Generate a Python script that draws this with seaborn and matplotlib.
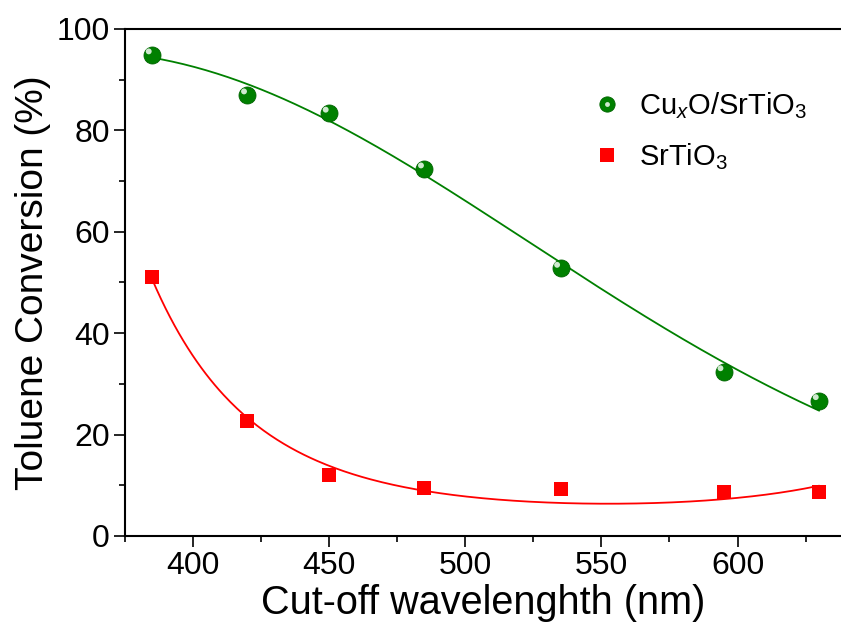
import numpy as np
import matplotlib
matplotlib.use("Agg")
import matplotlib.pyplot as plt
import matplotlib.transforms as mtransforms
from matplotlib.lines import Line2D
import seaborn as sns

# data
wavelength = [385, 420, 450, 485, 535, 595, 630]
cuxo_srtio3 = [94.9, 87.0, 83.4, 72.4, 52.8, 32.4, 26.7]
srtio3 = [51.0, 22.7, 12.0, 9.4, 9.3, 8.7, 8.6]

sns.set_style("ticks")
plt.rcParams['font.family'] = ['Liberation Sans', 'DejaVu Sans']
plt.rcParams['mathtext.fontset'] = 'custom'
plt.rcParams['mathtext.rm'] = 'Liberation Sans'
plt.rcParams['mathtext.it'] = 'Liberation Sans:italic'
for k in ['text.color', 'axes.labelcolor', 'xtick.color', 'ytick.color', 'axes.edgecolor']:
    plt.rcParams[k] = 'black'

GREEN = '#008000'
RED = '#ff0000'


def exp_quad_fit(x, y, n_iter=60):
    # least squares fit of y = exp(a*t^2 + b*t + c), t scaled x
    t = (np.asarray(x, float) - 500) / 100
    y = np.asarray(y, float)
    p = np.polyfit(t, np.log(y), 2)
    for _ in range(n_iter):
        f = np.exp(np.polyval(p, t))
        J = np.column_stack([f * t ** 2, f * t, f])
        step = np.linalg.lstsq(J, y - f, rcond=None)[0]
        p = p + step
    return lambda xx: np.exp(np.polyval(p, (np.asarray(xx, float) - 500) / 100))


fig = plt.figure(figsize=(8.41, 6.26), dpi=100)
ax = fig.add_axes([0.1486, 0.1438, 0.8514, 0.8099])

# fitted curves
xs = np.linspace(min(wavelength), max(wavelength), 300)
green_fit = exp_quad_fit(wavelength, cuxo_srtio3)
red_fit = exp_quad_fit(wavelength, srtio3)
sns.lineplot(x=xs, y=green_fit(xs), color=GREEN, lw=1.3, ax=ax)
sns.lineplot(x=xs, y=red_fit(xs), color=RED, lw=1.3, ax=ax)

# markers
sns.scatterplot(x=wavelength, y=srtio3, marker='s', s=110, color=RED,
                edgecolor=RED, linewidth=0, ax=ax, zorder=4)
sns.scatterplot(x=wavelength, y=cuxo_srtio3, marker='o', s=150, color=GREEN,
                edgecolor='#006400', linewidth=0.6, ax=ax, zorder=4)
# small highlight so the dots look like shaded spheres
hl = mtransforms.offset_copy(ax.transData, fig=fig, x=-2.5, y=2.5, units='points')
ax.scatter(wavelength, cuxo_srtio3, marker='o', s=18, color='#cfe9cf',
           edgecolor='none', transform=hl, zorder=5)

ax.set_xlim(375, 638)
ax.set_ylim(0, 100)
ax.set_xticks([400, 450, 500, 550, 600])
ax.set_xticks([375, 425, 475, 525, 575, 625], minor=True)
ax.set_yticks([0, 20, 40, 60, 80, 100])
ax.set_yticks([10, 30, 50, 70, 90], minor=True)
ax.tick_params(which='major', direction='out', length=8, width=1.2,
               labelsize=23, pad=3)
ax.tick_params(which='minor', direction='out', length=4.5, width=1.2)
for side in ['left', 'bottom', 'top']:
    ax.spines[side].set_linewidth(1.5)
ax.spines['right'].set_visible(False)

ax.set_xlabel('Cut-off wavelenghth (nm)', fontsize=28.5, labelpad=2)
ax.set_ylabel('Toluene Conversion (%)', fontsize=28, labelpad=4)

h1 = Line2D([], [], marker='o', ls='none', ms=11, color=GREEN,
            markeredgecolor='#006400', markeredgewidth=0.6)
h1b = Line2D([], [], marker='o', ls='none', ms=3.5, color='#cfe9cf',
             markeredgecolor='none')
h2 = Line2D([], [], marker='s', ls='none', ms=9.5, color=RED,
            markeredgewidth=0)
ax.legend([(h1, h1b), h2],
          [r'Cu$_{\mathit{x}}$O/SrTiO$_3$', r'SrTiO$_3$'],
          loc='upper left', bbox_to_anchor=(0.612, 0.932), frameon=False,
          fontsize=21, handletextpad=0.5, labelspacing=0.7, handlelength=1.2)

fig.savefig('out.png', dpi=100)
